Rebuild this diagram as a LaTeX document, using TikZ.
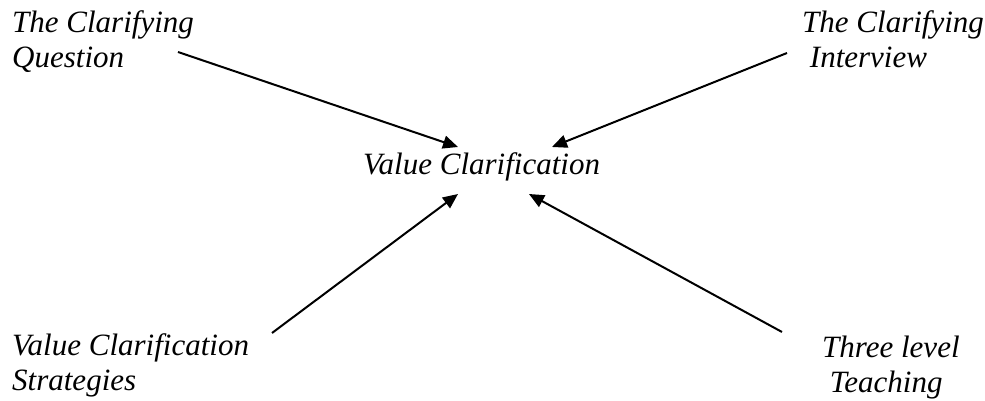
\documentclass[tikz,border=0pt]{standalone}
\usepackage{fontspec}
\setmainfont{Liberation Serif}
\usetikzlibrary{arrows.meta}
\tikzset{
  lbl/.style={anchor=base west, align=left, inner sep=0pt, font=\fontsize{31}{35}\selectfont\itshape},
  conn/.style={line width=2pt, -{Triangle[length=15pt,width=13pt]}}
}
\begin{document}
\begin{tikzpicture}[x=1pt,y=-1pt]
\useasboundingbox (0,0) rectangle (985,401);
\node[lbl] (tl) at (12,68) {The Clarifying\\Question};
\node[lbl] (tr) at (802,68) {The Clarifying\\\ Interview};
\node[lbl] (c) at (363,175) {Value Clarification};
\node[lbl] (bl) at (12,390) {Value Clarification\\Strategies};
\node[lbl] (br) at (822,392) {Three level\\\ Teaching};
\coordinate (tlS) at (178,52);
\coordinate (trS) at (787,53);
\coordinate (blS) at (272,333);
\coordinate (brS) at (782,332);
\coordinate (cTL) at (458,147);
\coordinate (cTR) at (552,147);
\coordinate (cBL) at (458,194);
\coordinate (cBR) at (529,194);
\draw[conn] (tlS) -- (cTL);
\draw[conn] (trS) -- (cTR);
\draw[conn] (blS) -- (cBL);
\draw[conn] (brS) -- (cBR);
\end{tikzpicture}
\end{document}
